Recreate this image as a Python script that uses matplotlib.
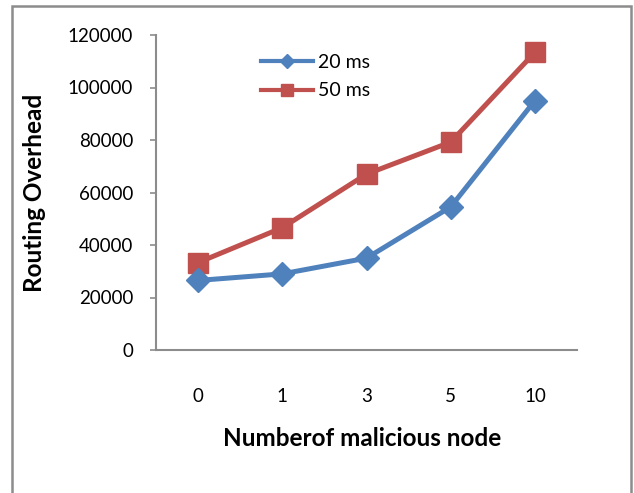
import matplotlib
matplotlib.use("Agg")
import matplotlib.pyplot as plt
from matplotlib.lines import Line2D
from matplotlib.patches import Rectangle

categories = ["0", "1", "3", "5", "10"]
series_20ms = [26500, 29000, 35000, 54500, 95000]
series_50ms = [33300, 46600, 67000, 79200, 113400]
yticks = [0, 20000, 40000, 60000, 80000, 100000, 120000]

BLUE = "#4F81BD"
RED = "#C0504D"
GREY = "#8C8C8C"

plt.rcParams['font.family'] = ['Lato', 'DejaVu Sans']

W, H = 634, 493
fig = plt.figure(figsize=(W / 100, H / 100), dpi=100)
ax = fig.add_axes([156 / W, 1 - 350 / H, (577 - 156) / W, (350 - 35) / H])

x = list(range(len(categories)))
ax.plot(x, series_50ms, color=RED, lw=3.6, marker='s', ms=14, zorder=3)
ax.plot(x, series_20ms, color=BLUE, lw=3.6, marker='D', ms=12, zorder=4)

ax.set_xlim(-0.5, len(categories) - 0.5)
ax.set_ylim(0, 120000)
ax.set_yticks(yticks)
ax.set_yticklabels([str(v) for v in yticks])
ax.set_xticks(x)
ax.set_xticklabels(categories)

for s in ["top", "right"]:
    ax.spines[s].set_visible(False)
for s in ["left", "bottom"]:
    ax.spines[s].set_color(GREY)
    ax.spines[s].set_linewidth(1.5)
ax.tick_params(axis='y', direction='out', length=4.5, width=1.2, color=GREY,
               labelsize=13.5, pad=12)
ax.tick_params(axis='x', length=0, labelsize=13.5, pad=27)

fig.text(362 / W, 1 - 438 / H, "Numberof malicious node", ha='center', va='center',
         fontsize=17.5, fontweight='bold')
fig.text(35 / W, 1 - 193 / H, "Routing Overhead", ha='center', va='center',
         rotation=90, fontsize=17.5, fontweight='bold')

handles = [Line2D([], [], color=BLUE, lw=3, marker='D', ms=7),
           Line2D([], [], color=RED, lw=3, marker='s', ms=8.5)]
leg = ax.legend(handles, ["20 ms", "50 ms"], loc='upper left',
                bbox_to_anchor=(251 / W, 1 - 44 / H), bbox_transform=fig.transFigure,
                frameon=False, fontsize=14, handlelength=2.7, handletextpad=0.25,
                labelspacing=0.6, borderpad=0)

fig.patches.append(Rectangle((12 / W, -0.05), (631 - 12) / W, 1.05 - 6 / H,
                             transform=fig.transFigure, fill=False,
                             edgecolor=GREY, lw=1.8, zorder=0))

fig.savefig("out.png", dpi=100)
